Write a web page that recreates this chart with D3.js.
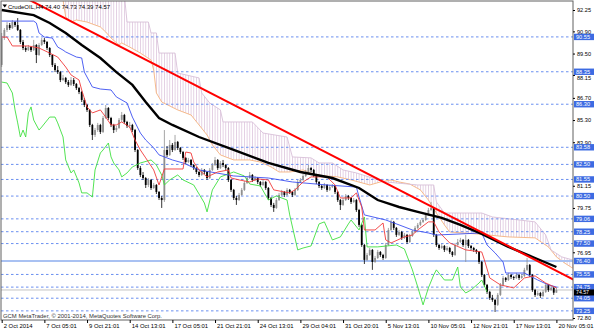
<!DOCTYPE html>
<html>
<head>
<meta charset="utf-8">
<title>CrudeOIL,H4</title>
<script src="https://cdn.jsdelivr.net/npm/d3@7"></script>
<style>
body { margin: 0; background: #fff; }
text { font-family: "Liberation Sans", Arial, sans-serif; }
</style>
</head>
<body>
<script>

// H4 bars, [open, high, low, close]
var ohlc = [
[88.78,90.80,88.65,90.48],[90.48,91.11,90.36,90.99],[90.99,91.49,90.86,91.30],[91.30,91.43,90.99,91.11],
[91.11,91.62,91.05,91.49],[91.49,91.55,91.18,91.30],[91.30,91.74,90.92,90.99],[90.99,91.05,90.10,90.23],
[90.23,90.36,89.72,89.85],[89.85,89.98,89.60,89.72],[89.72,90.04,89.66,89.91],[89.91,89.98,89.60,89.72],
[89.72,90.36,89.66,90.04],[90.04,90.10,88.90,89.41],[89.41,90.17,89.35,90.04],[90.04,90.48,89.98,90.36],
[90.36,90.48,90.10,90.23],[90.23,90.29,89.72,89.85],[89.85,89.91,89.28,89.41],[89.41,89.47,88.65,88.78],
[88.78,88.90,88.33,88.46],[88.46,88.71,88.21,88.33],[88.33,88.40,87.70,87.83],[87.83,88.15,87.77,87.96],
[87.96,88.02,87.58,87.70],[87.70,87.83,87.39,87.52],[87.52,88.02,87.45,87.83],[87.83,87.96,87.45,87.58],
[87.58,87.64,87.20,87.32],[87.32,87.39,86.94,87.07],[87.07,87.14,86.44,86.57],[86.57,86.69,86.12,86.25],
[86.25,86.31,85.81,85.94],[85.94,86.00,84.86,84.99],[84.99,85.06,84.04,84.36],[84.36,84.80,84.23,84.67],
[84.67,85.12,84.55,84.99],[84.99,85.06,84.42,84.55],[84.55,85.56,84.48,85.43],[85.43,86.25,85.37,86.06],
[86.06,86.12,85.31,85.43],[85.43,85.50,84.86,84.99],[84.99,85.06,84.48,84.67],[84.67,84.93,84.55,84.80],
[84.80,85.43,84.74,85.31],[85.31,85.81,85.18,85.62],[85.62,85.69,85.06,85.18],[85.18,85.25,84.80,84.93],
[84.93,85.18,84.80,84.99],[84.99,85.06,84.55,84.67],[84.67,84.74,83.28,83.41],[83.41,83.47,82.15,82.27],
[82.27,82.40,81.70,81.83],[81.83,82.02,81.52,81.64],[81.64,81.70,81.01,81.20],[81.20,81.64,81.07,81.52],
[81.52,81.58,80.89,81.01],[81.01,81.33,80.95,81.20],[81.20,81.26,80.63,80.76],[80.76,80.82,80.25,80.38],
[80.38,80.51,79.75,80.25],[80.25,84.67,80.13,83.41],[83.41,83.66,82.97,83.10],[83.10,84.04,83.03,83.73],
[83.73,83.85,83.28,83.41],[83.41,84.36,83.35,83.92],[83.92,83.98,83.41,83.54],[83.54,83.60,83.16,83.28],
[83.28,83.35,82.78,82.91],[82.91,82.97,82.52,82.65],[82.65,82.91,82.59,82.78],[82.78,82.84,82.33,82.46],
[82.46,82.52,82.15,82.27],[82.27,82.33,81.89,82.02],[82.02,82.08,81.70,81.83],[81.83,82.27,81.77,82.15],
[82.15,82.21,81.89,82.02],[82.02,82.08,81.52,81.64],[81.64,82.27,81.58,82.15],[82.15,82.59,82.08,82.46],
[82.46,82.97,82.40,82.78],[82.78,82.84,82.15,82.27],[82.27,82.71,82.21,82.59],[82.59,82.78,82.33,82.46],
[82.46,82.52,82.15,82.27],[82.27,82.33,81.39,81.52],[81.52,81.58,80.76,80.89],[80.89,80.95,80.25,80.38],
[80.38,80.51,79.94,80.25],[80.25,80.70,80.19,80.57],[80.57,81.01,80.51,80.89],[80.89,81.45,80.82,81.33],
[81.33,81.77,81.26,81.64],[81.64,82.02,81.58,81.83],[81.83,81.89,81.39,81.52],[81.52,81.77,81.45,81.64],
[81.64,81.70,81.26,81.39],[81.39,81.45,81.07,81.20],[81.20,81.52,81.14,81.39],[81.39,81.45,80.89,81.01],
[81.01,81.07,80.25,80.38],[80.38,80.44,79.81,79.94],[79.94,80.07,79.50,79.75],[79.75,80.38,79.69,80.25],
[80.25,80.70,80.19,80.57],[80.57,80.89,80.51,80.76],[80.76,80.82,80.44,80.57],[80.57,81.01,80.51,80.89],
[80.89,80.95,80.63,80.76],[80.76,80.82,80.44,80.57],[80.57,81.01,80.51,80.89],[80.89,81.52,80.82,81.39],
[81.39,81.64,81.33,81.52],[81.52,81.89,81.45,81.77],[81.77,82.15,81.70,82.02],[82.02,82.46,81.95,82.27],
[82.27,82.33,82.02,82.15],[82.15,82.21,81.70,81.83],[81.83,81.89,81.26,81.39],[81.39,81.45,81.01,81.14],
[81.14,81.20,80.89,81.01],[81.01,81.33,80.95,81.20],[81.20,81.26,80.76,80.89],[80.89,81.20,80.82,81.07],
[81.07,81.26,81.01,81.14],[81.14,81.20,80.63,80.76],[80.76,80.82,80.13,80.25],[80.25,80.32,79.62,79.94],
[79.94,80.38,79.88,80.25],[80.25,80.63,80.19,80.51],[80.51,80.57,80.25,80.38],[80.38,80.44,80.00,80.13],
[80.13,80.38,80.07,80.25],[80.25,80.32,79.50,79.62],[79.62,79.69,78.55,78.68],[78.68,78.74,77.29,77.41],
[77.41,77.48,76.21,76.47],[76.47,76.91,76.40,76.78],[76.78,77.22,76.72,77.10],[77.10,77.16,75.84,76.34],
[76.34,76.72,76.28,76.59],[76.59,77.10,76.53,76.97],[76.97,77.03,76.66,76.78],[76.78,76.85,76.47,76.59],
[76.59,77.54,76.53,77.41],[77.41,78.49,77.35,78.36],[78.36,79.00,78.30,78.87],[78.87,78.93,78.36,78.49],
[78.49,78.55,77.92,78.05],[78.05,78.36,77.98,78.23],[78.23,78.30,77.73,77.86],[77.86,78.17,77.79,78.05],
[78.05,78.11,77.48,77.60],[77.60,78.11,77.54,77.98],[77.98,78.36,77.92,78.23],[78.23,78.61,78.17,78.49],
[78.49,78.80,78.42,78.68],[78.68,79.00,78.61,78.87],[78.87,79.12,78.80,78.99],[78.99,79.44,78.93,79.31],
[79.31,79.75,79.25,79.62],[79.62,80.13,79.56,79.75],[79.75,79.81,77.92,78.05],[78.05,78.11,77.29,77.41],
[77.41,77.48,77.10,77.22],[77.22,77.48,77.16,77.35],[77.35,77.41,76.97,77.10],[77.10,77.35,77.03,77.22],
[77.22,77.29,76.85,76.97],[76.97,77.03,76.66,76.78],[76.78,77.54,76.72,77.41],[77.41,77.79,77.35,77.60],
[77.60,77.86,77.54,77.73],[77.73,77.79,77.29,77.41],[77.41,78.05,76.34,77.73],[77.73,77.79,77.22,77.35],
[77.35,77.41,77.10,77.22],[77.22,77.29,76.97,77.10],[77.10,77.16,76.85,76.97],[76.97,77.03,76.21,76.34],
[76.34,76.40,75.39,75.52],[75.52,75.58,74.76,74.89],[74.89,74.95,74.32,74.45],[74.45,74.51,73.94,74.07],
[74.07,74.26,73.82,73.94],[73.94,74.01,73.18,73.63],[73.63,74.38,73.56,74.26],[74.26,75.01,74.19,74.89],
[74.89,75.46,74.82,75.33],[75.33,75.39,75.08,75.20],[75.20,75.65,75.14,75.52],[75.52,75.58,75.27,75.39],
[75.39,75.46,75.20,75.33],[75.33,75.65,75.27,75.52],[75.52,75.58,75.20,75.33],[75.33,75.58,75.27,75.46],
[75.46,75.97,75.39,75.84],[75.84,76.59,75.77,76.15],[76.15,76.21,75.39,75.52],[75.52,75.58,74.45,74.57],
[74.57,74.64,74.13,74.26],[74.26,74.51,74.19,74.38],[74.38,74.45,74.07,74.19],[74.19,74.57,74.13,74.45],
[74.45,75.01,74.38,74.89],[74.89,74.95,74.45,74.57],[74.57,74.82,74.51,74.70],[74.70,74.76,74.26,74.40],
[74.40,74.73,74.39,74.57]
];

var timeLabels = ["2 Oct 2014","7 Oct 05:01","9 Oct 21:01","14 Oct 13:01","17 Oct 05:01","21 Oct 21:01",
  "24 Oct 13:01","29 Oct 04:01","31 Oct 20:01","5 Nov 13:01","10 Nov 05:01","12 Nov 21:01","17 Nov 13:01","20 Nov 05:01"];

// price scale labels that stay visible beside the level tags
var priceTicks = [92.25,90.90,89.50,88.15,86.70,85.30,83.90,81.15,79.75,76.95,72.80];

// dotted horizontal levels
var levels = [90.55,88.35,86.30,83.58,82.50,81.55,80.50,79.06,78.25,77.50,75.55,74.75,74.05,73.25];
var supportLevel = 76.40;
var bidPrice = 74.57;

// [bar, price]
var maLine = [[0,92.25],[12,91.93],[18,91.43],[24,90.80],[30,90.04],[37,89.22],[43,88.33],[49,87.52],
  [54,86.44],[59,85.43],[64,84.99],[74,84.23],[87,83.41],[100,82.59],[112,82.02],[124,81.64],[134,81.01],
  [141,80.25],[149,79.81],[156,79.50],[165,79.12],[172,78.68],[180,78.11],[190,77.29],[200,76.59],[208,76.02]];

var tenkan = [[0,90.54],[2,90.54],[4,89.98],[10,89.98],[12,89.91],[14,89.85],[18,89.53],[21,89.28],[24,88.65],
  [26,88.15],[29,87.83],[30,87.20],[32,86.13],[34,85.75],[37,85.94],[39,85.49],[41,84.99],[43,84.99],[45,85.18],
  [48,84.86],[50,84.04],[52,83.41],[54,82.91],[57,82.15],[59,81.20],[61,82.21],[68,82.21],[69,83.28],[71,83.22],
  [72,82.65],[74,82.15],[77,81.71],[81,82.02],[85,82.15],[86,81.64],[89,81.52],[93,81.39],[96,81.58],[100,81.52],
  [102,80.89],[106,80.76],[108,80.70],[110,80.89],[113,81.39],[116,81.71],[122,81.71],[125,81.20],[127,80.38],
  [131,80.38],[133,80.70],[135,79.81],[136,78.36],[140,78.36],[143,78.80],[144,77.73],[146,77.54],[151,77.92],
  [154,78.04],[156,78.36],[160,78.87],[162,78.87],[164,78.23],[168,77.54],[174,77.10],[180,76.97],[181,76.47],
  [183,75.33],[187,74.89],[192,74.70],[196,75.33],[200,75.46],[204,75.01],[208,74.70]];

var kijun = [[0,91.55],[12,91.55],[13,91.43],[14,90.80],[16,90.54],[19,90.48],[21,89.91],[23,89.72],[24,89.60],
  [28,89.28],[30,89.22],[31,88.33],[34,87.39],[37,87.26],[41,87.20],[43,86.76],[47,86.38],[49,85.49],[52,84.48],
  [54,84.04],[57,83.54],[59,83.10],[64,82.78],[68,82.59],[74,82.15],[87,81.77],[100,81.64],[109,81.39],[122,81.20],
  [133,81.07],[134,80.44],[136,79.31],[144,78.99],[149,78.68],[154,78.36],[160,78.17],[163,78.04],[180,78.17],
  [182,77.41],[185,76.91],[188,76.34],[189,75.64],[196,75.64],[201,75.20],[205,74.89],[208,74.76]];

var chikou = [[0,87.70],[2,87.64],[4,87.01],[5,85.94],[6,85.12],[7,84.23],[8,84.67],[9,84.23],[10,85.75],[11,86.13],
  [12,85.30],[14,84.67],[15,84.86],[18,85.49],[20,85.49],[21,85.12],[23,84.23],[24,82.78],[26,81.96],[27,82.15],
  [29,81.33],[30,80.70],[32,80.70],[34,80.44],[35,82.15],[37,83.22],[38,83.41],[40,83.85],[41,82.97],[42,82.59],
  [44,82.15],[45,81.71],[47,81.96],[49,82.34],[52,82.59],[56,82.78],[58,82.46],[60,81.83],[61,81.20],[63,81.52],
  [66,81.83],[68,81.52],[72,81.20],[76,80.06],[77,79.50],[79,80.89],[82,81.71],[87,82.02],[91,81.77],[93,81.26],
  [97,81.14],[100,80.25],[103,80.51],[107,80.25],[108,79.31],[111,77.10],[113,77.22],[116,77.35],[119,78.74],
  [121,78.87],[124,77.73],[127,77.92],[130,78.74],[131,78.99],[134,78.36],[136,79.18],[137,77.29],[141,77.29],
  [148,77.41],[151,77.16],[154,75.84],[156,74.76],[158,73.63],[160,74.70],[162,75.52],[163,75.84],[166,75.20],
  [169,75.20],[171,76.02],[172,74.76],[174,74.38],[176,74.57],[179,75.01],[180,75.20],[182,74.45]];

var spanA = [[0,94.77],[22,93.20],[23,92.88],[24,91.81],[26,91.49],[28,91.62],[32,91.49],[37,91.18],[39,90.86],
  [41,90.48],[44,90.04],[45,90.17],[48,89.91],[52,89.53],[56,89.09],[57,88.46],[58,87.01],[60,86.44],[66,85.94],
  [71,85.62],[74,84.99],[77,84.36],[79,83.73],[82,83.10],[87,82.78],[93,82.78],[97,82.65],[101,82.34],[104,82.02],
  [108,82.02],[113,82.15],[118,81.83],[126,81.71],[131,81.52],[138,81.20],[142,81.39],[146,81.52],[149,81.39],
  [153,81.26],[157,80.89],[160,80.25],[163,79.43],[166,78.68],[168,78.23],[178,78.11],[190,77.92],[200,77.86],
  [205,77.29],[208,76.66],[211,76.28],[214,75.96],[221,75.71]];

var spanB = [[0,93.20],[46,93.20],[47,91.49],[55,91.49],[56,90.80],[58,90.80],[59,89.53],[65,89.53],[66,88.27],
  [74,87.96],[75,87.01],[78,86.38],[82,85.94],[83,85.18],[94,85.18],[98,84.48],[107,84.23],[109,82.97],[116,82.91],
  [119,82.59],[124,82.59],[128,82.15],[133,81.96],[139,81.64],[144,81.39],[156,81.20],[162,81.20],[163,80.13],
  [166,79.43],[180,79.43],[184,79.18],[194,78.99],[200,78.87],[204,78.04],[206,77.10],[210,76.66],[214,76.47],
  [221,76.34]];

var trendPoints = [[25,91.62],[208,75.78]];

var W = 600, H = 333;
var plot = {left: 1, top: 1, right: 573, bottom: 320};

var x = d3.scaleLinear().domain([0, 208]).range([1.7, 556.4]);
var y = d3.scaleLinear().domain([72.80, 92.25]).range([318, 10]);

var bull = "#8f8f8f";

var svg = d3.select("body").append("svg").attr("width", W).attr("height", H)
  .style("display", "block").style("background", "#fff");

var defs = svg.append("defs");
defs.append("clipPath").attr("id", "plotclip").append("rect")
  .attr("x", plot.left).attr("y", plot.top)
  .attr("width", plot.right - plot.left).attr("height", plot.bottom - plot.top);

var pat = defs.append("pattern").attr("id", "hatch")
  .attr("patternUnits", "userSpaceOnUse")
  .attr("x", x(0) - 0.4).attr("y", 0)
  .attr("width", x(1) - x(0)).attr("height", 20);
pat.append("line").attr("x1", 0.4).attr("x2", 0.4).attr("y1", 0).attr("y2", 20)
  .attr("stroke", "#d9bfd9").attr("stroke-width", 0.8);

var g = svg.append("g").attr("clip-path", "url(#plotclip)");

var line = d3.line().x(d => x(d[0])).y(d => y(d[1]));

// cloud
g.append("path")
  .attr("d", line(spanA.concat(spanB.slice().reverse())) + "Z")
  .attr("fill", "url(#hatch)").attr("stroke", "none");
g.append("path").datum(spanA).attr("d", line)
  .attr("fill", "none").attr("stroke", "#f5b27e").attr("stroke-width", 0.9);
g.append("path").datum(spanB).attr("d", line)
  .attr("fill", "none").attr("stroke", "#d8bfd8").attr("stroke-width", 0.9);

// horizontal levels
g.selectAll(".lvl").data(levels).join("line")
  .attr("x1", plot.left).attr("x2", plot.right)
  .attr("y1", d => y(d)).attr("y2", d => y(d))
  .attr("stroke", "#6a8ff0").attr("stroke-width", 1).attr("stroke-dasharray", "2.5,2.5");

g.append("line").attr("x1", plot.left).attr("x2", plot.right)
  .attr("y1", y(supportLevel)).attr("y2", y(supportLevel))
  .attr("stroke", "#a9c1f2").attr("stroke-width", 1.8);

g.append("line").attr("x1", plot.left).attr("x2", plot.right)
  .attr("y1", y(bidPrice)).attr("y2", y(bidPrice))
  .attr("stroke", "#c4c4c4").attr("stroke-width", 1);

// candles
var cg = g.append("g");
cg.selectAll(".wick").data(ohlc).join("line")
  .attr("x1", (d, i) => x(i)).attr("x2", (d, i) => x(i))
  .attr("y1", d => y(d[1])).attr("y2", d => y(d[2]))
  .attr("stroke", d => d[3] >= d[0] ? bull : "#000").attr("stroke-width", 0.8);
cg.selectAll(".body").data(ohlc).join("rect")
  .attr("x", (d, i) => x(i) - 0.9).attr("width", 1.8)
  .attr("y", d => y(Math.max(d[0], d[3])))
  .attr("height", d => Math.max(0.7, Math.abs(y(d[0]) - y(d[3]))))
  .attr("fill", d => d[3] >= d[0] ? bull : "#000");

// indicator lines
g.append("path").datum(chikou).attr("d", line)
  .attr("fill", "none").attr("stroke", "#3fe03f").attr("stroke-width", 0.9);
g.append("path").datum(kijun).attr("d", line)
  .attr("fill", "none").attr("stroke", "#3b4ff0").attr("stroke-width", 0.9);
g.append("path").datum(tenkan).attr("d", line)
  .attr("fill", "none").attr("stroke", "#f03a3a").attr("stroke-width", 0.9);
g.append("path").datum(maLine).attr("d", line)
  .attr("fill", "none").attr("stroke", "#000").attr("stroke-width", 2.4);

// trend line (ray extended across the window)
var slope = (trendPoints[1][1] - trendPoints[0][1]) / (trendPoints[1][0] - trendPoints[0][0]);
var tStart = -20, tEnd = 220;
g.append("line")
  .attr("x1", x(tStart)).attr("y1", y(trendPoints[0][1] + slope * (tStart - trendPoints[0][0])))
  .attr("x2", x(tEnd)).attr("y2", y(trendPoints[0][1] + slope * (tEnd - trendPoints[0][0])))
  .attr("stroke", "#ff0000").attr("stroke-width", 2);

// frame
svg.append("rect").attr("x", plot.left).attr("y", plot.top)
  .attr("width", plot.right - plot.left).attr("height", plot.bottom - plot.top)
  .attr("fill", "none").attr("stroke", "#606060").attr("stroke-width", 1);

// bottom time axis
var xAxis = svg.append("g").attr("transform", "translate(0," + plot.bottom + ")")
  .call(d3.axisBottom(x).tickValues(d3.range(0, 209, 16))
    .tickFormat((d, i) => timeLabels[i]).tickSize(3));
xAxis.select(".domain").remove();
xAxis.selectAll("line").attr("stroke", "#000");
xAxis.selectAll("text").attr("text-anchor", "start").attr("dx", "1.5").attr("y", 4)
  .attr("font-size", "5.9px").attr("fill", "#000");

// right price axis
var yAxis = svg.append("g").attr("transform", "translate(" + plot.right + ",0)")
  .call(d3.axisRight(y).tickValues(priceTicks).tickFormat(d3.format(".2f")).tickSize(2));
yAxis.select(".domain").remove();
yAxis.selectAll("line").attr("stroke", "#000");
yAxis.selectAll("text").attr("x", 4).attr("font-size", "5.6px").attr("fill", "#000")
  .attr("dy", d => d === 88.15 ? "0.75em" : "0.32em");

// level labels on the price axis
var lab = svg.append("g");
levels.concat([supportLevel]).forEach(function(v) {
  lab.append("rect").attr("x", plot.right + 1).attr("y", y(v) - 3.2)
    .attr("width", 20).attr("height", 6.4).attr("fill", "#3d6be2");
  lab.append("text").attr("x", plot.right + 3).attr("y", y(v)).attr("dy", "0.34em")
    .attr("font-size", "5.6px").attr("fill", "#fff").text(d3.format(".2f")(v));
});
var bidY = y(bidPrice) + 2.5;
lab.append("rect").attr("x", plot.right + 1).attr("y", bidY - 3)
  .attr("width", 20).attr("height", 6).attr("fill", "#000");
lab.append("text").attr("x", plot.right + 3).attr("y", bidY).attr("dy", "0.34em")
  .attr("font-size", "5.2px").attr("fill", "#fff").text(d3.format(".2f")(bidPrice));

// header
var last = ohlc[ohlc.length - 1];
svg.append("path").attr("d", "M2.5,4.5 L7,4.5 L4.75,7.5 Z").attr("fill", "#000");
svg.append("text").attr("x", 8).attr("y", 8.5).attr("font-size", "6px").attr("fill", "#000")
  .text("CrudeOIL,H4  " + last.map(d3.format(".2f")).join(" "));

svg.append("text").attr("x", 3).attr("y", 317.5).attr("font-size", "5.9px").attr("fill", "#333")
  .text("GCM MetaTrader, \u00a9 2001-2014, MetaQuotes Software Corp.");

</script>
</body>
</html>
